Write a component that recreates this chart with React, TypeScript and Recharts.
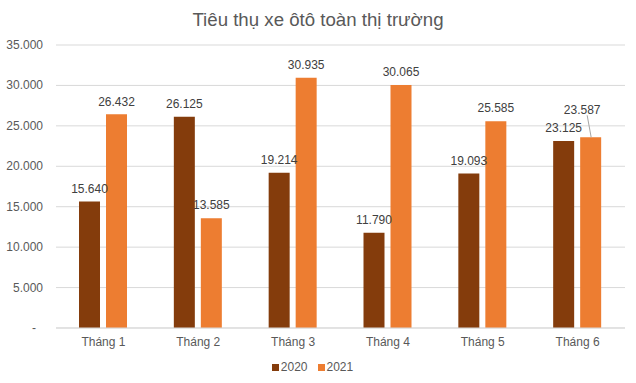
import { BarChart, Bar, XAxis, YAxis, CartesianGrid, Legend, LabelList } from 'recharts';

const months = ['Tháng 1', 'Tháng 2', 'Tháng 3', 'Tháng 4', 'Tháng 5', 'Tháng 6'];
const sales2020 = [15640, 26125, 19214, 11790, 19093, 23125];
const sales2021 = [26432, 13585, 30935, 30065, 25585, 23587];
const yTicks = [0, 5000, 10000, 15000, 20000, 25000, 30000, 35000];

const data = months.map((month, i) => ({ month, y2020: sales2020[i], y2021: sales2021[i] }));

const FONT = '"Liberation Sans", Arial, sans-serif';
const COLOR_2020 = '#843C0C';
const COLOR_2021 = '#ED7D31';

function formatNumber(v: number): string {
  if (v === 0) return '-';
  return String(v).replace(/\B(?=(\d{3})+(?!\d))/g, '.');
}

function YTick({ x, y, payload }: any) {
  const isZero = payload.value === 0;
  return (
    <text x={isZero ? x - 7 : x} y={y} dy={4} textAnchor="end" fill="#595959" fontSize={12} fontFamily={FONT}>
      {formatNumber(payload.value)}
    </text>
  );
}

function renderLabel(props: any, shiftedIndex?: number) {
  const { x, y, width, value, index } = props;
  const cx = x + width / 2;
  if (index === shiftedIndex) {
    return (
      <g key={`lbl-${index}`}>
        <line x1={cx + 0.5} y1={y} x2={cx - 3.5} y2={y - 22} stroke="#a6a6a6" strokeWidth={1} />
        <text x={cx - 8.5} y={y - 28 + 4.3} textAnchor="middle" fill="#404040" fontSize={12} fontFamily={FONT}>
          {formatNumber(value)}
        </text>
      </g>
    );
  }
  return (
    <text key={`lbl-${index}`} x={cx} y={y - 8.7} textAnchor="middle" fill="#404040" fontSize={12} fontFamily={FONT}>
      {formatNumber(value)}
    </text>
  );
}

function LegendContent() {
  const items = [
    { label: '2020', color: COLOR_2020 },
    { label: '2021', color: COLOR_2021 },
  ];
  return (
    <div style={{ height: 22, display: 'flex', justifyContent: 'center', alignItems: 'center', fontFamily: FONT, fontSize: 12, color: '#595959' }}>
      {items.map((it, i) => (
        <div key={it.label} style={{ display: 'flex', alignItems: 'center', marginRight: i === 0 ? 10 : 0 }}>
          <span style={{ display: 'inline-block', width: 7, height: 7, background: it.color, marginRight: 2 }} />
          <span>{it.label}</span>
        </div>
      ))}
    </div>
  );
}

export default function App() {
  return (
    <div style={{ position: 'absolute', left: 0, top: 0, width: 636, height: 383, background: '#fff' }}>
      <div
        style={{
          position: 'absolute',
          top: 8,
          left: 0,
          width: 636,
          textAlign: 'center',
          fontFamily: FONT,
          fontSize: 18.67,
          lineHeight: '24px',
          color: '#595959',
        }}
      >
        Tiêu thụ xe ôtô toàn thị trường
      </div>
      <BarChart
        width={636}
        height={383}
        data={data}
        margin={{ top: 45, right: 11, bottom: 5, left: 0 }}
        barSize={21}
        barGap={6}
      >
        <CartesianGrid vertical={false} stroke="#d9d9d9" />
        <XAxis
          dataKey="month"
          height={28}
          tickLine={false}
          axisLine={{ stroke: '#d9d9d9' }}
          tickMargin={3}
          tick={{ fill: '#595959', fontSize: 12, fontFamily: FONT }}
        />
        <YAxis
          width={56}
          domain={[0, 35000]}
          ticks={yTicks}
          axisLine={false}
          tickLine={false}
          tickMargin={7}
          tick={<YTick />}
        />
        <Legend verticalAlign="bottom" content={<LegendContent />} />
        <Bar dataKey="y2020" name="2020" fill={COLOR_2020} isAnimationActive={false}>
          <LabelList dataKey="y2020" content={(p: any) => renderLabel(p)} />
        </Bar>
        <Bar dataKey="y2021" name="2021" fill={COLOR_2021} isAnimationActive={false}>
          <LabelList dataKey="y2021" content={(p: any) => renderLabel(p, 5)} />
        </Bar>
      </BarChart>
    </div>
  );
}
